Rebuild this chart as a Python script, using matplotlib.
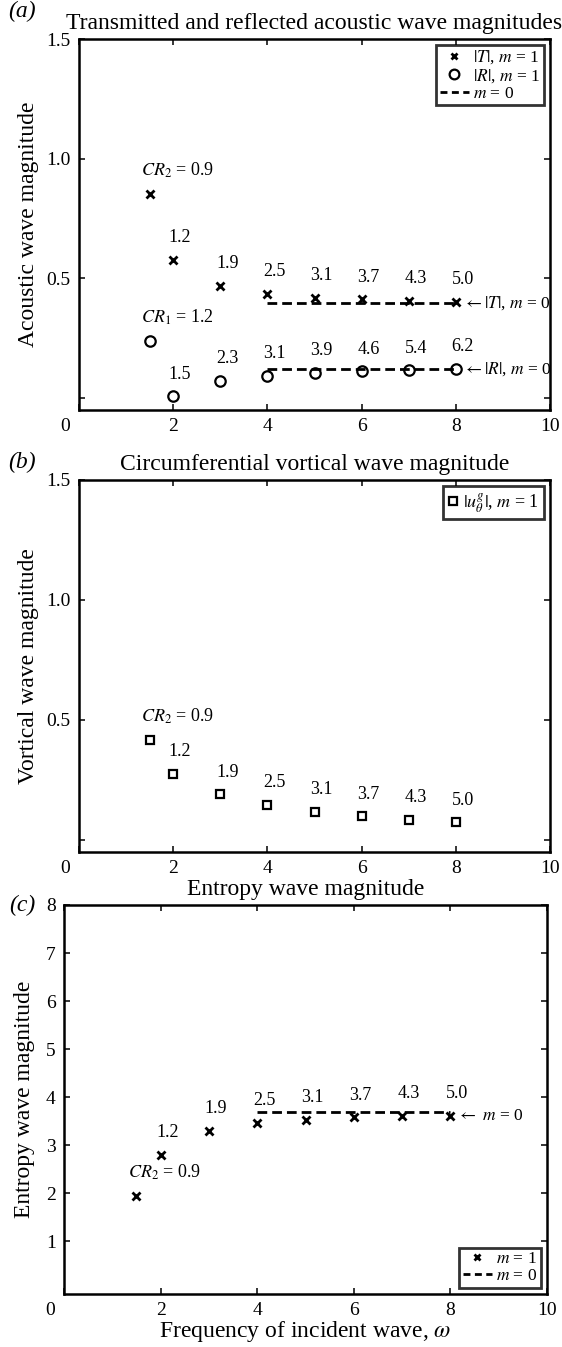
import matplotlib
matplotlib.use("Agg")
import matplotlib.pyplot as plt
import matplotlib.transforms as mtransforms
from matplotlib.lines import Line2D

plt.rcParams['font.family'] = ['Liberation Serif', 'DejaVu Serif']
plt.rcParams['mathtext.fontset'] = 'stix'

# ---------------- data ----------------
omega = [1.5, 2, 3, 4, 5, 6, 7, 8]
omega_m0 = [4, 8]

T_m1 = [0.854, 0.576, 0.468, 0.435, 0.419, 0.412, 0.406, 0.402]
R_m1 = [0.240, 0.007, 0.071, 0.094, 0.106, 0.112, 0.116, 0.121]
T_m0 = 0.398
R_m0 = 0.122

U_m1 = [0.415, 0.277, 0.190, 0.146, 0.116, 0.098, 0.083, 0.073]

S_m1 = [1.95, 2.80, 3.30, 3.47, 3.53, 3.58, 3.61, 3.61]
S_m0 = 3.68

labels_CR2 = [r'$CR_2$ = 0.9', '1.2', '1.9', '2.5', '3.1', '3.7', '4.3', '5.0']
labels_CR1 = [r'$CR_1$ = 1.2', '1.5', '2.3', '3.1', '3.9', '4.6', '5.4', '6.2']

xticks = [0, 2, 4, 6, 8, 10]
yticks_ab = [0, 0.5, 1.0, 1.5]
yticklabels_ab = ['', '0.5', '1.0', '1.5']
yticks_c = [1, 2, 3, 4, 5, 6, 7, 8]

W, H = 562, 1347
fig = plt.figure(figsize=(W / 100, H / 100), dpi=100)


def px_axes(l, t, r, b):
    return fig.add_axes([l / W, 1 - b / H, (r - l) / W, (b - t) / H])


def style(ax, ylim, yt, ytl):
    ax.set_xlim(0, 10)
    ax.set_ylim(*ylim)
    ax.set_xticks(xticks)
    ax.set_xticklabels([str(v) for v in xticks])
    ax.set_yticks(yt)
    ax.set_yticklabels(ytl)
    ax.tick_params(direction='in', top=True, right=True, length=4.5,
                   width=1.1, labelsize=14, pad=6, color='black')
    for s in ax.spines.values():
        s.set_linewidth(1.8)
    # shift the "0" x tick label a bit to the left as in the reference
    lab = ax.get_xticklabels()[0]
    off = mtransforms.ScaledTranslation(-14 / 100, 0, fig.dpi_scale_trans)
    lab.set_transform(lab.get_transform() + off)


def annotate_points(ax, xs, ys, labels):
    for i, (x, y, s) in enumerate(zip(xs, ys, labels)):
        if i == 0:
            ax.annotate(s, (x, y), xytext=(-6, 17), textcoords='offset points',
                        ha='left', va='center', fontsize=13)
        else:
            ax.annotate(s, (x, y), xytext=(5, 16), textcoords='offset points',
                        ha='center', va='center', fontsize=13)


def legend_style(leg):
    fr = leg.get_frame()
    fr.set_edgecolor('black')
    fr.set_linewidth(2.0)
    fr.set_boxstyle('square', pad=0)


DASH = (3.5, 1.8)

# ---------------- panel (a) ----------------
axA = px_axes(79, 39, 550, 410)
style(axA, (-0.05, 1.5), yticks_ab, yticklabels_ab)
axA.plot(omega, T_m1, linestyle='none', marker='x', ms=5.5, mew=2, color='black')
axA.plot(omega, R_m1, linestyle='none', marker='o', ms=7.5, mew=1.6,
         mfc='none', mec='black')
axA.plot(omega_m0, [T_m0, T_m0], '--', color='black', lw=2, dashes=DASH)
axA.plot(omega_m0, [R_m0, R_m0], '--', color='black', lw=2, dashes=DASH)
annotate_points(axA, omega, T_m1, labels_CR2)
annotate_points(axA, omega, R_m1, labels_CR1)
axA.annotate(r'$\leftarrow$$|T|$, $m$ = 0', (omega_m0[1], T_m0), xytext=(5, 0),
             textcoords='offset points', ha='left', va='center', fontsize=12.5)
axA.annotate(r'$\leftarrow$$|R|$, $m$ = 0', (omega_m0[1], R_m0), xytext=(5, 0),
             textcoords='offset points', ha='left', va='center', fontsize=12.5)
axA.set_title('Transmitted and reflected acoustic wave magnitudes',
              fontsize=17, pad=7)
axA.set_ylabel('Acoustic wave magnitude', fontsize=17, labelpad=5)
hA = [Line2D([], [], ls='none', marker='x', ms=5, mew=2, color='black'),
      Line2D([], [], ls='none', marker='o', ms=7, mew=1.6, mfc='none', mec='black'),
      Line2D([], [], ls='--', lw=2, dashes=(2.5, 1.6), color='black')]
legA = axA.legend(hA, [r'$|T|$, $m$ = 1', r'$|R|$, $m$ = 1', r'$m$ = 0'],
                  loc='upper right', fontsize=12.5, handlelength=1.7,
                  handletextpad=0.25, borderpad=0.2, labelspacing=0.05,
                  borderaxespad=0.35, fancybox=False)
legend_style(legA)

# ---------------- panel (b) ----------------
axB = px_axes(79, 480, 550, 852)
style(axB, (-0.05, 1.5), yticks_ab, yticklabels_ab)
axB.plot(omega, U_m1, linestyle='none', marker='s', ms=6, mew=1.6,
         mfc='none', mec='black')
annotate_points(axB, omega, U_m1, labels_CR2)
axB.set_title('Circumferential vortical wave magnitude', fontsize=17, pad=7)
axB.set_ylabel('Vortical wave magnitude', fontsize=17, labelpad=5)
hB = [Line2D([], [], ls='none', marker='s', ms=6, mew=1.6, mfc='none', mec='black')]
legB = axB.legend(hB, [r'$|u_\theta^g|$, $m$ = 1'], loc='upper right',
                  fontsize=13, handlelength=0.7, handletextpad=0.2,
                  borderpad=0.25, borderaxespad=0.35, fancybox=False)
legend_style(legB)

# ---------------- panel (c) ----------------
axC = px_axes(64, 905, 547, 1294)
style(axC, (-0.1, 8), yticks_c, [str(v) for v in yticks_c])
axC.plot(omega, S_m1, linestyle='none', marker='x', ms=5.5, mew=2, color='black')
axC.plot(omega_m0, [S_m0, S_m0], '--', color='black', lw=2, dashes=DASH)
annotate_points(axC, omega, S_m1, labels_CR2)
axC.annotate(r'$\leftarrow$ $m$ = 0', (omega_m0[1], S_m1[-1]), xytext=(5, 0),
             textcoords='offset points', ha='left', va='center', fontsize=12.5)
axC.set_title('Entropy wave magnitude', fontsize=17, pad=7)
axC.set_ylabel('Entropy wave magnitude', fontsize=17, labelpad=8)
axC.set_xlabel(r'Frequency of incident wave, $\omega$', fontsize=17, labelpad=0)
hC = [Line2D([], [], ls='none', marker='x', ms=5, mew=2, color='black'),
      Line2D([], [], ls='--', lw=2, dashes=(2.5, 1.6), color='black')]
legC = axC.legend(hC, [r'$m$ = 1', r'$m$ = 0'], loc='lower right', fontsize=12.5,
                  handlelength=1.7, handletextpad=0.25, borderpad=0.2,
                  labelspacing=0.05, borderaxespad=0.35, fancybox=False)
legend_style(legC)

# panel letters
fig.text(22 / W, 1 - 11 / H, '(a)', fontsize=17, ha='center', va='center',
         style='italic')
fig.text(22 / W, 1 - 462 / H, '(b)', fontsize=17, ha='center', va='center',
         style='italic')
fig.text(22 / W, 1 - 905 / H, '(c)', fontsize=17, ha='center', va='center',
         style='italic')

fig.savefig('out.png', dpi=100)
